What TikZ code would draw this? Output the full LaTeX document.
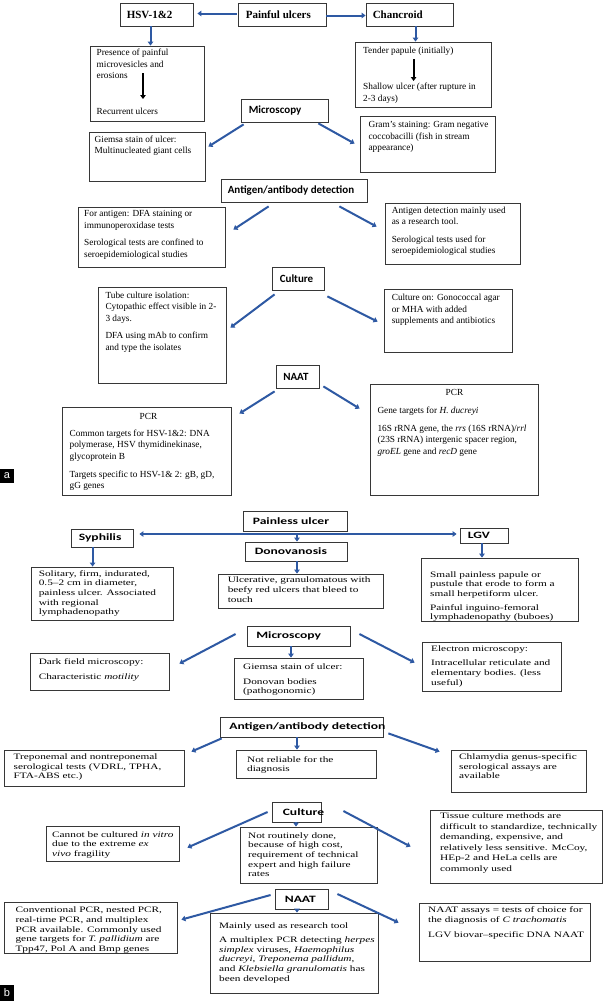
\documentclass[tikz,border=0pt]{standalone}
\usepackage{fontspec}
\setmainfont{Liberation Serif}
\newfontfamily\fa{Liberation Serif}
\newfontfamily\fb[FakeStretch=1.36]{Liberation Serif}
\newfontfamily\ha{Carlito}
\newfontfamily\hb[FakeStretch=1.4]{Carlito}
\newfontfamily\lab{Liberation Sans}
\usetikzlibrary{arrows.meta,fit}
\definecolor{arrblue}{RGB}{46,89,163}
\definecolor{boxline}{RGB}{55,55,55}
\begin{document}
\begin{tikzpicture}[x=1pt,y=-1pt,
 box/.style={draw=boxline,line width=0.8pt,inner sep=0pt,rectangle},
 ta/.style={inner sep=0pt,align=left,anchor=north west,font=\fa\fontsize{9.3}{11.5}\selectfont},
 tb/.style={inner sep=0pt,align=left,anchor=north west,font=\fb\fontsize{8.3}{9.7}\selectfont},
 hta/.style={inner sep=0pt,anchor=west,font=\fa\bfseries\fontsize{11}{13}\selectfont},
 hsa/.style={inner sep=0pt,anchor=west,font=\ha\bfseries\fontsize{11}{13}\selectfont},
 hsb/.style={inner sep=0pt,anchor=west,font=\hb\bfseries\fontsize{9.7}{12}\selectfont},
 arr/.style={draw=arrblue,line width=2pt,-{Triangle[length=4pt,width=5.5pt]}},
 darr/.style={draw=arrblue,line width=2pt,{Triangle[length=4pt,width=5.5pt]}-{Triangle[length=4pt,width=5.5pt]}},
 karr/.style={draw=black,line width=2pt,-{Triangle[length=4pt,width=5.5pt]}},
 tag/.style={fill=black,inner sep=0pt,minimum width=14pt,text=white,font=\lab\fontsize{11}{11}\selectfont},
]
\fill[white] (0,0) rectangle (605,1001);
\useasboundingbox (0,0) rectangle (605,1001);

% ================= PART A =================
\node[box,fit={(238,3)(326,26)}] (pu) {};
\node[hta] (put) at ([xshift=8pt]pu.west) {Painful ulcers};
\node[box,fit={(120,3)(193,26)}] (hsv) {};
\node[hta] (hsvh) at ([xshift=7pt]hsv.west) {HSV-1\&2};
\node[box,fit={(366,3)(453,26)}] (chc) {};
\node[hta] (chch) at ([xshift=7pt]chc.west) {Chancroid};

\draw[arr] ([shift={(-1,-1)}]pu.west) -- ([shift={(4,-1)}]hsv.east);
\draw[arr] ([shift={(0,1)}]pu.east) -- ([shift={(0,1)}]chc.west);

\node[box,fit={(90,46)(204,121)}] (hsvt) {};
\node[ta] (hsvt1) at (96.5,48.9) {Presence of painful\\microvesicles and\\erosions};
\node[ta] (hsvt2) at (96.5,108.3) {Recurrent ulcers};
\draw[arr] ([xshift=-6pt]hsv.south) -- ([xshift=-6pt]hsv.south |- hsvt.north);
\coordinate (k1a) at (143,73);
\coordinate (k1b) at (143,99);
\draw[karr] (k1a) -- (k1b);

\node[box,fit={(355,42)(491,107)}] (chct) {};
\node[ta] (chct1) at (363,46.6) {Tender papule (initially)};
\node[ta] (chct2) at (363,82.9) {Shallow ulcer (after rupture in\\2-3 days)};
\draw[arr] ([xshift=6pt]chc.south) -- ([xshift=6pt]chc.south |- chct.north);
\coordinate (k2a) at (413.6,59);
\coordinate (k2b) at (413.6,81);
\draw[karr] (k2a) -- (k2b);

% Microscopy
\node[box,fit={(241,99)(328,122)}] (ma) {};
\node[hsa] (mah) at ([xshift=8pt]ma.west) {Microscopy};
\node[box,fit={(89,132)(205,181)}] (giem) {};
\node[ta] (giemt) at (94.5,135.6) {Giemsa stain of ulcer:\\Multinucleated giant cells};
\node[box,fit={(360,116)(495,172)}] (gram) {};
\node[ta] (gramt) at (368.4,121.6) {Gram’s staining: Gram negative\\coccobacilli (fish in stream\\appearance)};
\draw[arr] ([shift={(3,2)}]ma.south west) -- ([shift={(3,15)}]giem.north east);
\draw[arr] ([shift={(-10,1)}]ma.south east) -- ([shift={(-5,28)}]gram.north west);

% Antigen
\node[box,fit={(221,179)(367,202)}] (aa) {};
\node[hsa] (aah) at ([xshift=7pt]aa.west) {Antigen/antibody detection};
\node[box,fit={(78,207)(225,267)}] (aal) {};
\node[ta] (aalt) at (84,210.6) {For antigen: DFA staining or\\immunoperoxidase tests\\[6pt]Serological tests are confined to\\seroepidemiological studies};
\node[box,fit={(385,203)(520,264)}] (aar) {};
\node[ta] (aart) at (391.6,206.6) {Antigen detection mainly used\\as a research tool.\\[6pt]Serological tests used for\\seroepidemiological studies};
\draw[arr] ([shift={(48,4)}]aa.south west) -- ([shift={(8,23)}]aal.north east);
\draw[arr] ([shift={(-28,4)}]aa.south east) -- ([shift={(-8,24)}]aar.north west);

% Culture
\node[box,fit={(272,267)(324,290)}] (ca) {};
\node[hsa] (cah) at ([xshift=8pt]ca.west) {Culture};
\node[box,fit={(98,287)(226,383)}] (cal) {};
\node[ta] (calt) at (105.3,291.6) {Tube culture isolation:\\Cytopathic effect visible in 2-\\3 days.\\[6pt]DFA using mAb to confirm\\and type the isolates};
\node[box,fit={(384,289)(512,352)}] (car) {};
\node[ta] (cart) at (391.6,293.9) {Culture on: Gonococcal agar\\or MHA with added\\supplements and antibiotics};
\draw[arr] ([shift={(3,4)}]ca.south west) -- ([shift={(4,41)}]cal.north east);
\draw[arr] ([shift={(3,6)}]ca.south east) -- ([shift={(-6,33)}]car.north west);

% NAAT
\node[box,fit={(276,365)(319,388)}] (na) {};
\node[hsa] (nah) at ([xshift=7.5pt]na.west) {NAAT};
\node[box,fit={(62.5,407)(231,495)}] (pcrl) {};
\node[ta,anchor=north] (pcrlh) at (148.5,412.9) {PCR};
\node[ta] (pcrlt) at (69.4,429.6) {Common targets for HSV-1\&2: DNA\\polymerase, HSV thymidinekinase,\\glycoprotein B\\[6.5pt]Targets specific to HSV-1\& 2: gB, gD,\\gG genes};
\node[box,fit={(370,384)(538,495)}] (pcrr) {};
\node[ta,anchor=north] (pcrrh) at (454.5,388.9) {PCR};
\node[ta] (pcrrt) at (377.3,406.3) {Gene targets for \textit{H. ducreyi}\\[6.5pt]16S rRNA gene, the \textit{rrs} (16S rRNA)/\textit{rrl}\\(23S rRNA) intergenic spacer region,\\\textit{groEL} gene and \textit{recD} gene};
\draw[arr] ([shift={(-1,3)}]na.south west) -- ([shift={(8,7)}]pcrl.north east);
\draw[arr] ([shift={(4,-2)}]na.south east) -- ([shift={(-10,25)}]pcrr.north west);

\node[tag,minimum height=14pt] (laba) at (7,476) {a};

% ================= PART B =================
\node[box,fit={(243,511)(347,531)}] (pl) {};
\node[hsb] (plh) at ([xshift=10pt]pl.west) {Painless ulcer};
\node[box,fit={(71,529)(133,547)}] (sy) {};
\node[hsb] (syh) at ([xshift=8pt]sy.west) {Syphilis};
\node[box,fit={(460,528)(508,543)}] (lgv) {};
\node[hsb] (lgvh) at ([xshift=8pt]lgv.west) {LGV};
\node[box,fit={(245,542)(347,561)}] (don) {};
\node[hsb] (donh) at ([xshift=10pt]don.west) {Donovanosis};

\draw[darr] ([shift={(6,-4)}]sy.east) -- ([shift={(-3,-1.5)}]lgv.west);
\draw[arr] ([shift={(1,-8)}]don.north) -- ([shift={(1,0)}]don.north);

\node[box,fit={(31,567)(173,620)}] (syt) {};
\node[tb] (sytt) at (38.6,570.1) {Solitary, firm, indurated,\\0.5–2 cm in diameter,\\painless ulcer. Associated\\with regional\\lymphadenopathy};
\draw[arr] ([xshift=-9.4pt]sy.south) -- ([xshift=-9.4pt]sy.south |- syt.north);

\node[box,fit={(218,574)(383,608)}] (dont) {};
\node[tb] (dontt) at (227.6,576.8) {Ulcerative, granulomatous with\\beefy red ulcers that bleed to\\touch};
\draw[arr] ([xshift=1pt]don.south) -- ([xshift=1pt]don.south |- dont.north);

\node[box,fit={(421,558)(578,621)}] (lgvt) {};
\node[tb] (lgvtt) at (430,571.1) {Small painless papule or\\pustule that erode to form a\\small herpetiform ulcer.\\[4pt]Painful inguino-femoral\\lymphadenopathy (buboes)};
\draw[arr] ([xshift=-2pt]lgv.south) -- ([xshift=-2pt]lgv.south |- lgvt.north);

% Microscopy b
\node[box,fit={(247,626)(350,646)}] (mb) {};
\node[hsb] (mbh) at ([xshift=9.5pt]mb.west) {Microscopy};
\node[box,fit={(30,653)(169,690)}] (mbl) {};
\node[tb] (mblt) at (38.6,658.8) {Dark field microscopy:\\[5pt]Characteristic \textit{motility}};
\node[box,fit={(234,658)(363,699)}] (mbc) {};
\node[tb] (mbct) at (243,663.4) {Giemsa stain of ulcer:\\[5pt]Donovan bodies\\(pathogonomic)};
\node[box,fit={(422,642)(561,691)}] (mbr) {};
\node[tb] (mbrt) at (431,645.1) {Electron microscopy:\\[5pt]Intracellular reticulate and\\elementary bodies. (less\\useful)};
\draw[arr] ([shift={(-11,-2)}]mb.west) -- ([shift={(10,11)}]mbl.north east);
\draw[arr] ([xshift=-7.5pt]mb.south) -- ([xshift=-7.5pt]mb.south |- mbc.north);
\draw[arr] ([shift={(9,-2)}]mb.east) -- ([shift={(-7,21)}]mbr.north west);

% Antigen b
\node[box,fit={(220,717)(383,737)}] (ab) {};
\node[hsb] (abh) at ([xshift=9.5pt]ab.west) {Antigen/antibody detection};
\node[box,fit={(4,750)(184,786)}] (abl) {};
\node[tb] (ablt) at (13.5,753.4) {Treponemal and nontreponemal\\serological tests (VDRL, TPHA,\\FTA-ABS etc.)};
\node[box,fit={(236,750)(376,778)}] (abc) {};
\node[tb] (abct) at (247,756.1) {Not reliable for the\\diagnosis};
\node[box,fit={(451,750)(586,792)}] (abr) {};
\node[tb] (abrt) at (459,753.4) {Chlamydia genus-specific\\serological assays are\\available};
\draw[arr] ([shift={(2,1)}]ab.south west) -- ([shift={(7,2)}]abl.north east);
\draw[arr] ([xshift=-4.5pt]ab.south) -- ([xshift=-4.5pt]ab.south |- abc.north);
\draw[arr] ([shift={(5,-4)}]ab.south east) -- ([shift={(-11,2)}]abr.north west);

% Culture b
\node[box,fit={(272,802)(321,822)}] (cb) {};
\node[hsb] (cbh) at ([xshift=11pt]cb.west) {Culture};
\node[box,fit={(46,826)(179,861)}] (cbl) {};
\node[tb] (cblt) at (52,831.1) {Cannot be cultured \textit{in vitro}\\due to the extreme \textit{ex}\\\textit{vivo} fragility};
\node[box,fit={(240,827)(377,883)}] (cbc) {};
\node[tb] (cbct) at (248,832.1) {Not routinely done,\\because of high cost,\\requirement of technical\\expert and high failure\\rates};
\node[box,fit={(430,810)(602,883)}] (cbr) {};
\node[tb,font=\fb\fontsize{8.3}{10.5}\selectfont] (cbrt) at (440,812.8) {Tissue culture methods are\\difficult to standardize, technically\\demanding, expensive, and\\relatively less sensitive. McCoy,\\HEp-2 and HeLa cells are\\commonly used};
\draw[arr] ([shift={(-4,0)}]cb.west) -- ([shift={(8,22)}]cbl.north east);
\draw[arr] ([xshift=-0.5pt]cb.south) -- ([xshift=-0.5pt]cb.south |- cbc.north);
\draw[arr] ([shift={(22,-1)}]cb.east) -- ([shift={(-19,37)}]cbr.north west);

% NAAT b
\node[box,fit={(275,889)(328,909)}] (nb) {};
\node[hsb] (nbh) at ([xshift=10pt]nb.west) {NAAT};
\node[box,fit={(4,902)(177,953)}] (nbl) {};
\node[tb] (nblt) at (15.4,906.8) {Conventional PCR, nested PCR,\\real-time PCR, and multiplex\\PCR available. Commonly used\\gene targets for \textit{T. pallidium} are\\Tpp47, Pol A and Bmp genes};
\node[box,fit={(210,913)(378,993)}] (nbc) {};
\node[tb] (nbct) at (219,922.8) {Mainly used as research tool\\[4pt]A multiplex PCR detecting \textit{herpes}\\\textit{simplex} viruses, \textit{Haemophilus}\\\textit{ducreyi}, \textit{Treponema pallidum},\\and \textit{Klebsiella granulomatis} has\\been developed};
\node[box,fit={(419,903)(590,961)}] (nbr) {};
\node[tb] (nbrt) at (428,906.8) {NAAT assays = tests of choice for\\the diagnosis of \textit{C trachomatis}\\[5pt]LGV biovar–specific DNA NAAT};
\draw[arr] ([shift={(-4,-4)}]nb.west) -- ([shift={(4,18)}]nbl.north east);
\draw[arr] ([xshift=-4.5pt]nb.south) -- ([xshift=-4.5pt]nb.south |- nbc.north);
\draw[arr] ([shift={(9,-5)}]nb.east) -- ([shift={(-20,20)}]nbr.north west);

\node[tag,minimum height=16pt] (labb) at (7,993) {b};
\end{tikzpicture}
\end{document}
